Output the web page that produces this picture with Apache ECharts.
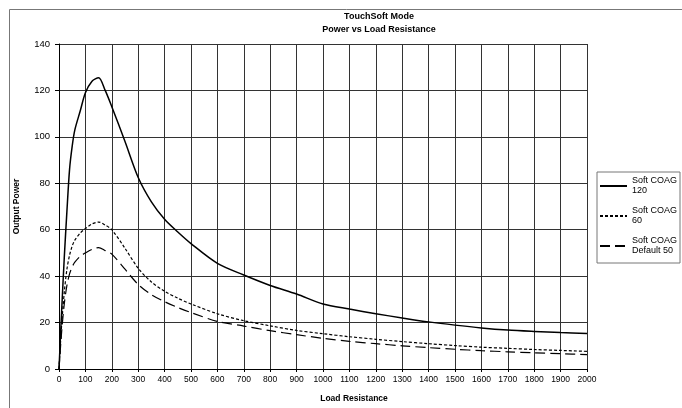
<!DOCTYPE html>
<html>
<head>
<meta charset="utf-8">
<script src="https://cdn.jsdelivr.net/npm/echarts@6/dist/echarts.min.js"></script>
<style>html,body{margin:0;padding:0;background:#fff}#c{width:682px;height:408px}</style>
</head>
<body>
<div id="c"></div>
<script>
var titleLines = ['TouchSoft Mode', 'Power vs Load Resistance'];
var xTitle = 'Load Resistance';
var yTitle = 'Output Power';
var seriesNames = ['Soft COAG 120', 'Soft COAG 60', 'Soft COAG Default 50'];
var legendLines = [['Soft COAG', '120'], ['Soft COAG', '60'], ['Soft COAG', 'Default 50']];

var resist = [0, 10, 20, 30, 40, 50, 60, 80, 100, 125, 150, 175, 200, 250, 300, 350, 400, 450, 500, 600, 700, 800, 900, 1000, 1100, 1200, 1300, 1400, 1500, 1600, 1700, 1800, 1900, 2000];
var coag120 = [0, 25, 48, 68, 86, 96, 103, 111, 119, 124, 125.5, 120, 113, 98, 82.5, 72, 64.5, 59, 54, 45.5, 40.5, 36, 32.3, 28, 25.8, 23.8, 22, 20.3, 18.9, 17.7, 16.8, 16.2, 15.7, 15.3];
var coag60 = [0, 19, 33, 43, 49, 53, 55.5, 58.5, 60.5, 62.5, 63.3, 62, 60, 52, 43.4, 37.5, 33.5, 30.5, 28, 23.8, 20.8, 18.6, 16.6, 15.2, 13.9, 12.8, 11.8, 10.9, 10.1, 9.4, 8.9, 8.4, 8.0, 7.6];
var coag50 = [0, 16, 28, 36, 41, 44, 46, 48.5, 50, 51.5, 52.3, 51, 49.5, 43, 36.4, 32, 29, 26.5, 24.3, 20.5, 18.5, 16.5, 14.8, 13.2, 11.9, 10.9, 10, 9.2, 8.5, 7.9, 7.4, 7.0, 6.6, 6.2];

var yTicks = [0, 20, 40, 60, 80, 100, 120, 140];
var xMax = 2000, xStep = 100;

function pairs(ys) { return resist.map(function (x, i) { return [x, ys[i]]; }); }

var font = 'Liberation Sans, Arial, sans-serif';
var chart = echarts.init(document.getElementById('c'), null, { renderer: 'canvas' });

var styles = [
  { type: 'solid', width: 1.5 },
  { type: [3, 2], width: 1.2 },
  { type: [10, 5], width: 1.2 }
];
var datas = [coag120, coag60, coag50];

chart.setOption({
  animation: false,
  backgroundColor: '#fff',
  graphic: [{
    type: 'rect', left: 7, top: 7, silent: true,
    shape: { width: 700, height: 420 },
    style: { fill: 'none', stroke: '#777', lineWidth: 1 }
  }],
  title: {
    text: titleLines.join('\n'),
    left: 374, top: 5, textAlign: 'center',
    textStyle: { fontFamily: font, fontSize: 9, fontWeight: 'bold', color: '#000', lineHeight: 13 }
  },
  grid: { left: 59, top: 44, right: 95, bottom: 34, containLabel: false },
  legend: {
    orient: 'vertical', left: 597, top: 172,
    padding: [0, 3, 3, 2], itemGap: 2, itemWidth: 27, itemHeight: 8,
    backgroundColor: '#fff', borderColor: '#777', borderWidth: 1,
    itemStyle: { opacity: 0 },
    data: seriesNames,
    formatter: function (n) { var i = seriesNames.indexOf(n); return legendLines[i].join('\n'); },
    textStyle: { fontFamily: font, fontSize: 9, color: '#000', lineHeight: 10, padding: [8, 0, 0, 0] }
  },
  xAxis: {
    type: 'value', min: 0, max: xMax, interval: xStep,
    name: xTitle, nameLocation: 'middle', nameGap: 25,
    nameTextStyle: { fontFamily: font, fontSize: 8.5, fontWeight: 'bold', color: '#000', padding: [0, 0, 0, 62] },
    axisLine: { lineStyle: { color: '#000', width: 1 } },
    axisTick: { show: true, length: 3, lineStyle: { color: '#000' } },
    axisLabel: { fontFamily: font, fontSize: 8.5, color: '#000', margin: 6, formatter: function (v) { return String(v); } },
    splitLine: { show: true, lineStyle: { color: '#333', width: 1 } }
  },
  yAxis: {
    type: 'value', min: yTicks[0], max: yTicks[yTicks.length - 1], interval: yTicks[1] - yTicks[0],
    name: yTitle, nameLocation: 'middle', nameGap: 38, nameRotate: 90,
    nameTextStyle: { fontFamily: font, fontSize: 8.5, fontWeight: 'bold', color: '#000' },
    axisLine: { show: true, lineStyle: { color: '#000', width: 1 } },
    axisTick: { show: true, length: 4, lineStyle: { color: '#000' } },
    axisLabel: { fontFamily: font, fontSize: 9.5, color: '#000', margin: 9 },
    splitLine: { show: true, lineStyle: { color: '#333', width: 1 } }
  },
  series: seriesNames.map(function (n, i) {
    return {
      name: n, type: 'line', data: pairs(datas[i]), smooth: 0.3,
      symbol: 'none', showSymbol: false,
      lineStyle: { color: '#000', width: styles[i].width, type: styles[i].type },
      itemStyle: { color: '#000' },
      z: 3
    };
  })
});
</script>
</body>
</html>
